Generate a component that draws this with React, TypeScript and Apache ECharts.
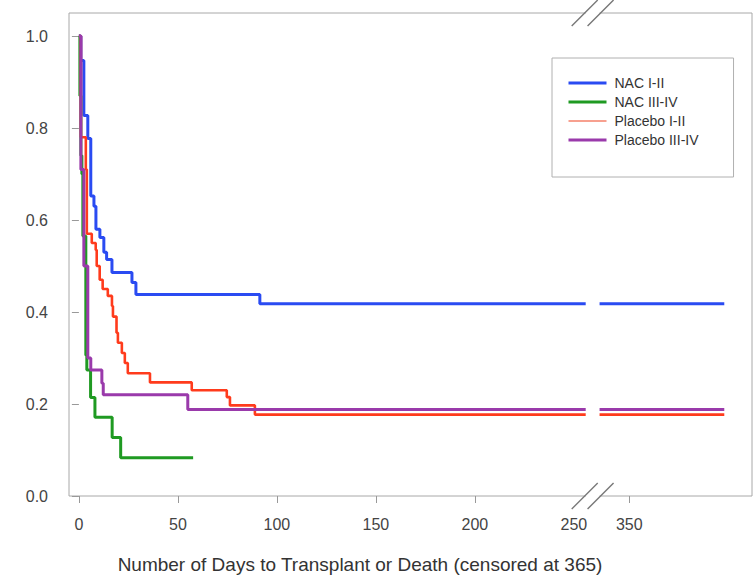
import React, { useEffect, useRef } from 'react';
import * as echarts from 'echarts';

const FONT = "'Liberation Sans', Arial, Helvetica, sans-serif";

// Kaplan–Meier steps: event day and survival after it
const nacI_days = [0, 1, 2.5, 4.5, 6, 7.6, 8.6, 10.6, 12.6, 14, 16.7, 26.8, 28.8, 91.4, 256];
const nacI_surv = [1.0, 0.947, 0.827, 0.777, 0.652, 0.63, 0.58, 0.562, 0.53, 0.514, 0.486, 0.464, 0.438, 0.418, 0.418];

const nacIII_days = [0, 0.5, 1, 1.5, 2, 3.5, 4, 5.9, 8.1, 16.8, 21.1, 57.7];
const nacIII_surv = [1.0, 0.87, 0.74, 0.70, 0.565, 0.306, 0.274, 0.214, 0.171, 0.127, 0.083, 0.083];

const plcI_days = [0, 1, 3.5, 4, 6.5, 8.5, 9, 10.5, 12, 14.6, 16.7, 17.2, 19, 19.7, 21.7, 23.2, 24.7, 35.9, 57, 74.7, 76.3, 88.9, 256];
const plcI_surv = [1.0, 0.78, 0.71, 0.57, 0.55, 0.535, 0.50, 0.47, 0.45, 0.435, 0.413, 0.39, 0.355, 0.333, 0.311, 0.289, 0.267, 0.247, 0.230, 0.215, 0.197, 0.177, 0.177];

const plcIII_days = [0, 1, 2.5, 4.5, 6, 11.6, 12.3, 55, 256];
const plcIII_surv = [1.0, 0.71, 0.50, 0.30, 0.274, 0.245, 0.22, 0.188, 0.188];

// segment after the axis break
const RIGHT_START_DAY = 335;
const RIGHT_END_DAY = 398;
const BREAK_SHIFT = 72; // days removed by the axis break

const xLabelDays = [0, 50, 100, 150, 200, 250, 350];
const xTickDays = [0, 50, 100, 150, 200, 350];
const yTicks = [0, 0.2, 0.4, 0.6, 0.8, 1.0];

const seriesNames = ['NAC I-II', 'NAC III-IV', 'Placebo I-II', 'Placebo III-IV'];
const seriesColors = ['#2a4bf2', '#1f9a22', '#ff3b1c', '#9a3aab'];

const toAxis = (d: number) => (d > 300 ? d - BREAK_SHIFT : d);
const fromAxis = (v: number) => (v > 260 ? v + BREAK_SHIFT : v);

function build(days: number[], surv: number[], continues: boolean) {
  const out: any[] = days.map((d, i) => [toAxis(d), surv[i]]);
  if (continues) {
    const last = surv[surv.length - 1];
    out.push([null, null]);
    out.push([toAxis(RIGHT_START_DAY), last]);
    out.push([toAxis(RIGHT_END_DAY), last]);
  }
  return out;
}

export default function App() {
  const ref = useRef<HTMLDivElement>(null);
  useEffect(() => {
    document.body.style.margin = '0';
    const chart = echarts.init(ref.current!, undefined, { renderer: 'svg' });
    const data = [
      build(nacI_days, nacI_surv, true),
      build(nacIII_days, nacIII_surv, false),
      build(plcI_days, plcI_surv, true),
      build(plcIII_days, plcIII_surv, true),
    ];
    const order = [0, 1, 3, 2];
    const widths = [3, 3, 2.6, 3];
    chart.setOption({
      animation: false,
      backgroundColor: '#ffffff',
      textStyle: { fontFamily: FONT },
      title: {
        text: 'Number of Days to Transplant or Death (censored at 365)',
        left: 355,
        top: 550,
        textAlign: 'center',
        textStyle: { fontFamily: FONT, fontSize: 19, fontWeight: 'normal', color: '#333' },
      },
      grid: {
        left: 69, right: 4, top: 13, bottom: 88,
        show: true, borderColor: '#a8a8a8', borderWidth: 1, backgroundColor: 'transparent',
      },
      legend: {
        orient: 'vertical',
        left: 552,
        top: 58,
        padding: [18, 35, 30, 15],
        borderColor: '#b0b0b0',
        borderWidth: 1,
        itemWidth: 38,
        itemHeight: 14,
        itemGap: 5,
        itemStyle: { opacity: 0 },
        textStyle: { fontFamily: FONT, fontSize: 14, color: '#333', padding: [0, 0, 0, 3] },
        data: [
          { name: seriesNames[0], lineStyle: { width: 3, color: seriesColors[0] } },
          { name: seriesNames[1], lineStyle: { width: 3, color: seriesColors[1] } },
          { name: seriesNames[2], lineStyle: { width: 1.5, color: '#f5816a' } },
          { name: seriesNames[3], lineStyle: { width: 3, color: seriesColors[3] } },
        ],
      },
      xAxis: {
        type: 'value',
        min: -5,
        max: 340,
        axisLine: { show: false },
        splitLine: { show: false },
        axisTick: { show: true, length: 7, lineStyle: { color: '#999' }, customValues: xTickDays.map(toAxis) },
        axisLabel: {
          fontFamily: FONT, fontSize: 16, color: '#444', margin: 20,
          customValues: xLabelDays.map(toAxis),
          formatter: (v: number) => String(Math.round(fromAxis(v))),
        },
      },
      yAxis: {
        type: 'value',
        min: 0,
        max: 1.05,
        axisLine: { show: false },
        splitLine: { show: false },
        axisTick: { show: true, length: 7, lineStyle: { color: '#999' }, customValues: yTicks },
        axisLabel: {
          fontFamily: FONT, fontSize: 16, color: '#444', margin: 21,
          customValues: yTicks,
          formatter: (v: number) => v.toFixed(1),
        },
      },
      series: order.map((i) => ({
        name: seriesNames[i],
        type: 'line',
        step: 'end',
        symbol: 'none',
        connectNulls: false,
        data: data[i],
        lineStyle: { color: seriesColors[i], width: widths[i] },
        itemStyle: { color: seriesColors[i] },
        z: 2 + i,
      })),
    });

    const gx1 = chart.convertToPixel({ xAxisIndex: 0 }, 255.5) as number;
    const gx2 = chart.convertToPixel({ xAxisIndex: 0 }, 263.5) as number;
    const yTop = 13;
    const yBot = 584 - 88;
    const h = 13;
    const slash = (cx: number, cy: number) => ({
      type: 'line',
      shape: { x1: cx - h, y1: cy + h, x2: cx + h, y2: cy - h },
      style: { stroke: '#777', lineWidth: 1.4 },
      z: 100,
    });
    const gap = (cy: number) => ({
      type: 'rect',
      shape: { x: gx1 + 1, y: cy - 2, width: gx2 - gx1 - 2, height: 4 },
      style: { fill: '#ffffff' },
      z: 99,
    });
    chart.setOption({
      graphic: [gap(yTop), gap(yBot), slash(gx1, yTop), slash(gx2, yTop), slash(gx1, yBot), slash(gx2, yBot)],
    });
    return () => chart.dispose();
  }, []);
  return <div ref={ref} style={{ width: 756, height: 584 }} />;
}
